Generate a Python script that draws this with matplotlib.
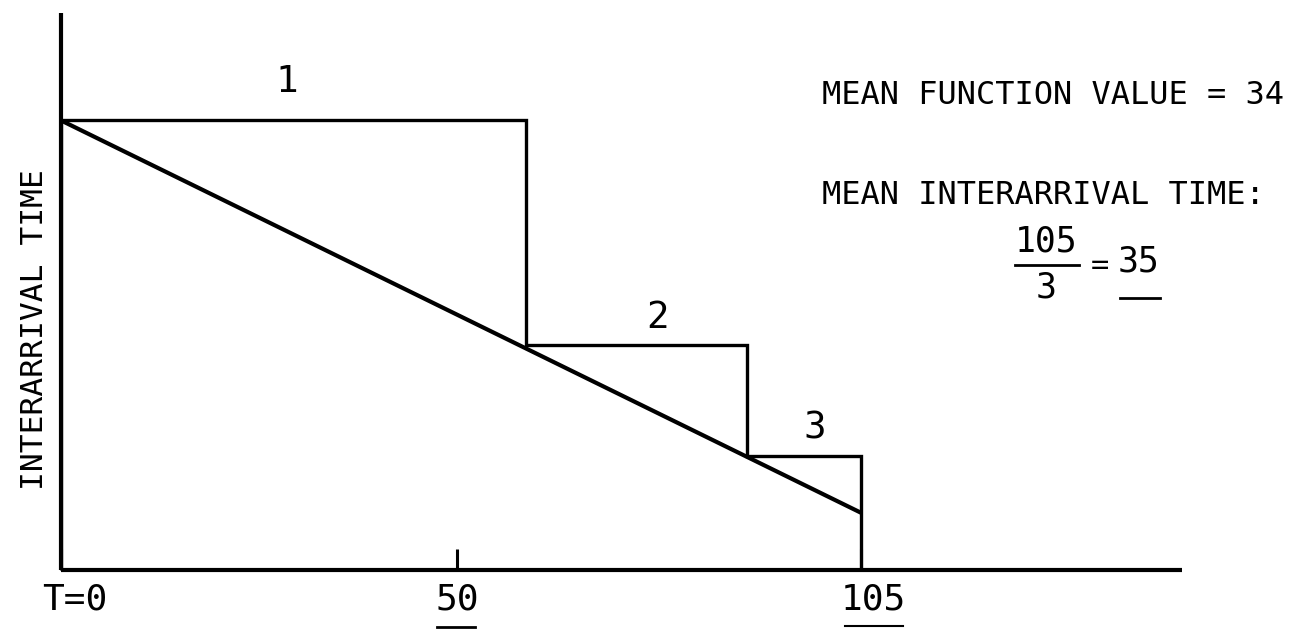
import matplotlib
matplotlib.use("Agg")
import matplotlib.pyplot as plt
from matplotlib.lines import Line2D
from matplotlib.transforms import ScaledTranslation

# ---- data ----
step_edges = [0, 61, 90, 105]          # arrival instants T
step_values = [59, 29.5, 15]           # interarrival time of each step
step_labels = ["1", "2", "3"]
line_t = [0, 105]                      # interarrival-time function
line_v = [59, 7.5]
tick_positions = [0, 52, 105]
tick_labels = ["T=0", "50", "105"]

W, H = 1290, 631
DPI = 100
fig = plt.figure(figsize=(W / DPI, H / DPI), dpi=DPI)
fig.patch.set_facecolor("white")

FONT = "DejaVu Sans Mono"

def fx(px):
    return px / W

def fy(py):
    return 1 - py / H

ax = fig.add_axes([fx(61), 61 / H, 1121 / W, 557 / H])
ax.set_xlim(0, 147.1)
ax.set_ylim(0, 73.1)
for s in ("top", "right"):
    ax.spines[s].set_visible(False)
for s in ("left", "bottom"):
    ax.spines[s].set_linewidth(3.0)
    ax.spines[s].set_capstyle("butt")

ax.stairs(step_values, step_edges, baseline=0, color="black", linewidth=2.4)
ax.plot(line_t, line_v, color="black", linewidth=3.0, solid_capstyle="butt")

# step labels: offsets (px) relative to the centre of each step top
label_offsets_px = [(-7, 20), (21, 9), (11, 9)]
for i, lab in enumerate(step_labels):
    xc = (step_edges[i] + step_edges[i + 1]) / 2
    dx, dy = label_offsets_px[i]
    ax.annotate(lab, xy=(xc, step_values[i]), xytext=(dx * 72 / DPI, dy * 72 / DPI),
                textcoords="offset points", ha="center", va="bottom",
                fontsize=27, family=FONT)

ax.set_yticks([])
ax.set_xticks(tick_positions, tick_labels, fontsize=26, family=FONT)
ax.tick_params(axis="x", direction="in", length=15, width=2.2, pad=9)
tick_shift_px = [14, 0, 12]
for lab, sh in zip(ax.get_xticklabels(), tick_shift_px):
    lab.set_transform(lab.get_transform() + ScaledTranslation(sh / DPI, 0, fig.dpi_scale_trans))

# y axis label
fig.text(fx(35), fy(330), "INTERARRIVAL TIME", rotation=90, ha="center",
         va="center", fontsize=22.5, family=FONT)

# underlines under tick labels 50 and 105
fig.add_artist(Line2D([fx(437), fx(475)], [fy(627), fy(627)], color="black", lw=2))
fig.add_artist(Line2D([fx(845), fx(903)], [fy(626), fy(626)], color="black", lw=1.5))

# right-hand annotations
fig.text(fx(822), fy(96), "MEAN FUNCTION VALUE = 34", ha="left", va="center",
         fontsize=23, family=FONT)
fig.text(fx(822), fy(195), "MEAN INTERARRIVAL TIME:", ha="left", va="center",
         fontsize=23, family=FONT)
fig.text(fx(1046), fy(242), "105", ha="center", va="center", fontsize=25, family=FONT)
fig.add_artist(Line2D([fx(1015), fx(1079)], [fy(265), fy(265)], color="black", lw=2))
fig.text(fx(1046), fy(288), "3", ha="center", va="center", fontsize=25, family=FONT)
fig.text(fx(1100), fy(265), "=", ha="center", va="center", fontsize=22, family=FONT)
fig.text(fx(1139), fy(262), "35", ha="center", va="center", fontsize=25, family=FONT)
fig.add_artist(Line2D([fx(1120), fx(1160)], [fy(298), fy(298)], color="black", lw=2))

fig.savefig("out.png", dpi=DPI, facecolor="white")
